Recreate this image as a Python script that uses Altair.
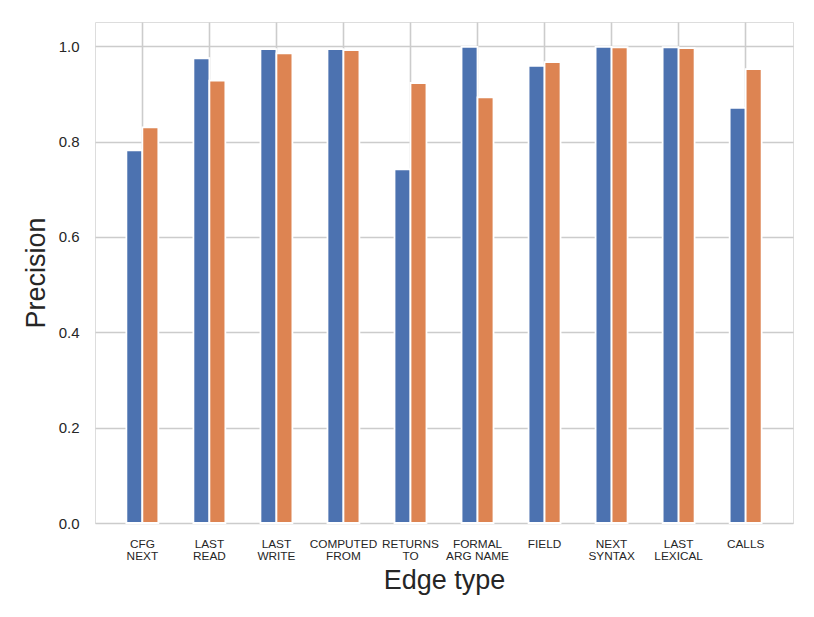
import altair as alt
import pandas as pd

categories = ["CFG|NEXT", "LAST|READ", "LAST|WRITE", "COMPUTED|FROM", "RETURNS|TO",
              "FORMAL|ARG NAME", "FIELD", "NEXT|SYNTAX", "LAST|LEXICAL", "CALLS"]
series_a = [0.782, 0.975, 0.994, 0.994, 0.742, 0.999, 0.959, 0.999, 0.998, 0.871]
series_b = [0.830, 0.928, 0.985, 0.992, 0.923, 0.893, 0.967, 0.998, 0.996, 0.952]
y_ticks = [0.0, 0.2, 0.4, 0.6, 0.8, 1.0]

rows = []
for c, a, b in zip(categories, series_a, series_b):
    rows.append({"edge": c, "series": "A", "precision": a})
    rows.append({"edge": c, "series": "B", "precision": b})
df = pd.DataFrame(rows)

FONT = "Liberation Sans"
TXT = "#262626"
GRID = "#cccccc"

chart = alt.Chart(df).mark_bar(stroke="white", strokeWidth=1.8).encode(
    x=alt.X("edge:N", sort=categories,
            scale=alt.Scale(paddingInner=0.523, paddingOuter=0.468),
            axis=alt.Axis(title="Edge type", labelAngle=0, grid=True, bandPosition=0.5,
                          gridColor=GRID, gridWidth=1.6, ticks=False, domain=False,
                          labelExpr="split(datum.label, '|')",
                          labelFont=FONT, labelFontSize=11.8, labelColor=TXT,
                          labelLineHeight=12.5, labelPadding=15, labelBaseline="top",
                          titleFont=FONT, titleFontSize=27, titleFontWeight="normal",
                          titleColor=TXT, titlePadding=5)),
    xOffset=alt.XOffset("series:N", scale=alt.Scale(paddingInner=0, paddingOuter=0)),
    y=alt.Y("precision:Q", scale=alt.Scale(domain=[0, 1.051], nice=False, zero=True),
            axis=alt.Axis(title="Precision", values=y_ticks, format=".1f", grid=True,
                          gridColor=GRID, gridWidth=1.6, ticks=False, domain=False,
                          labelFont=FONT, labelFontSize=15, labelColor=TXT, labelPadding=16,
                          titleFont=FONT, titleFontSize=27, titleFontWeight="normal",
                          titleColor=TXT, titlePadding=8)),
    color=alt.Color("series:N", scale=alt.Scale(domain=["A", "B"], range=["#4c72b0", "#dd8452"]),
                    legend=None),
).properties(
    width=698, height=501,
    padding={"left": 14, "top": 14, "right": 10, "bottom": 5},
).configure_view(
    stroke=GRID, strokeWidth=2
).configure(background="white")

chart.save("out.html", embed_options={"renderer": "svg", "actions": False})
